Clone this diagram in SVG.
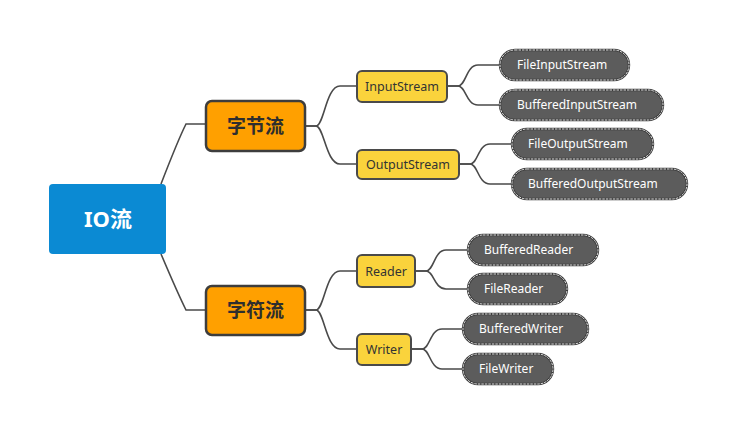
<svg xmlns="http://www.w3.org/2000/svg" width="736" height="435" viewBox="0 0 736 435">
<style>
.conn{fill:none;stroke:#4a4a4a;stroke-width:1.6}
.t{font-family:"Noto Sans","Noto Sans CJK SC",sans-serif}
.main{fill:#0b8ad3}
.l1{fill:#ffa000;stroke:#3d3d3d;stroke-width:2.5}
.l2{fill:#fad33c;stroke:#4a4a4a;stroke-width:2}
.leaf{fill:#5c5c5c;stroke:#3a3a3a;stroke-width:2.4}
.leafo{fill:none;stroke:#f2f2f2;stroke-width:0.9;stroke-dasharray:2.5 1}
.l1t{font-size:19px;font-weight:bold;fill:#2e2e2e}
.l2t{font-size:12.5px;fill:#333}
.lt{font-size:12px;fill:#fff}
</style>
<rect width="736" height="435" fill="#fff"/>
<g id="connectors">
<path class="conn" d="M161,184 Q178,140 186,124 L206,124"/>
<path class="conn" d="M161,254 Q178,294 186,310 L206,310"/>
<path class="conn" d="M305,126 L316,126 C324,126 326,86 340,86 L357,86"/>
<path class="conn" d="M305,126 L316,126 C324,126 326,164 340,164 L357,164"/>
<path class="conn" d="M305,310 L316,310 C324,310 326,271 340,271 L357,271"/>
<path class="conn" d="M305,310 L316,310 C324,310 326,349 340,349 L357,349"/>
<path class="conn" d="M447,86 L458,86 C466,86 466,65 478,65 L500,65"/>
<path class="conn" d="M447,86 L458,86 C466,86 466,105 478,105 L500,105"/>
<path class="conn" d="M459,164 L470,164 C478,164 478,144 490,144 L512,144"/>
<path class="conn" d="M459,164 L470,164 C478,164 478,184 490,184 L512,184"/>
<path class="conn" d="M415,271 L426,271 C434,271 434,250 446,250 L468,250"/>
<path class="conn" d="M415,271 L426,271 C434,271 434,289 446,289 L468,289"/>
<path class="conn" d="M411,349 L422,349 C430,349 430,329 442,329 L463,329"/>
<path class="conn" d="M411,349 L422,349 C430,349 430,369 442,369 L463,369"/>
</g>
<g id="io">
<rect class="main" x="49" y="184" width="117" height="70" rx="4"/>
<text class="t" x="108" y="227" text-anchor="middle" font-size="22" font-weight="bold" fill="#fff">IO流</text>
</g>
<g id="byte">
<rect class="l1" x="206" y="101" width="99" height="50" rx="6"/>
<text class="t l1t" x="255.5" y="133" text-anchor="middle">字节流</text>
</g>
<g id="char">
<rect class="l1" x="206" y="286" width="99" height="49" rx="6"/>
<text class="t l1t" x="255.5" y="317" text-anchor="middle">字符流</text>
</g>
<g id="inputstream">
<rect class="l2" x="357" y="71" width="90" height="31" rx="5"/>
<text class="t l2t" x="402" y="90.5" text-anchor="middle">InputStream</text>
</g>
<g id="outputstream">
<rect class="l2" x="357" y="150" width="102" height="29" rx="5"/>
<text class="t l2t" x="408" y="168.5" text-anchor="middle">OutputStream</text>
</g>
<g id="reader">
<rect class="l2" x="357" y="255" width="58" height="32" rx="5"/>
<text class="t l2t" x="386" y="275.5" text-anchor="middle">Reader</text>
</g>
<g id="writer">
<rect class="l2" x="357" y="334" width="54" height="31" rx="5"/>
<text class="t l2t" x="384" y="353.5" text-anchor="middle">Writer</text>
</g>
<g id="fileinputstream">
<rect class="leaf" x="500" y="50" width="129" height="30" rx="15"/>
<rect class="leafo" x="500" y="50" width="129" height="30" rx="15"/>
<text class="t lt" x="517" y="69">FileInputStream</text>
</g>
<g id="bufferedinputstream">
<rect class="leaf" x="500" y="90" width="163" height="30" rx="15"/>
<rect class="leafo" x="500" y="90" width="163" height="30" rx="15"/>
<text class="t lt" x="517" y="109">BufferedInputStream</text>
</g>
<g id="fileoutputstream">
<rect class="leaf" x="512" y="129" width="141" height="30" rx="15"/>
<rect class="leafo" x="512" y="129" width="141" height="30" rx="15"/>
<text class="t lt" x="528" y="148">FileOutputStream</text>
</g>
<g id="bufferedoutputstream">
<rect class="leaf" x="512" y="169" width="175" height="30" rx="15"/>
<rect class="leafo" x="512" y="169" width="175" height="30" rx="15"/>
<text class="t lt" x="528" y="188">BufferedOutputStream</text>
</g>
<g id="bufferedreader">
<rect class="leaf" x="468" y="235" width="130" height="30" rx="15"/>
<rect class="leafo" x="468" y="235" width="130" height="30" rx="15"/>
<text class="t lt" x="484" y="254">BufferedReader</text>
</g>
<g id="filereader">
<rect class="leaf" x="468" y="274" width="99" height="30" rx="15"/>
<rect class="leafo" x="468" y="274" width="99" height="30" rx="15"/>
<text class="t lt" x="484" y="293">FileReader</text>
</g>
<g id="bufferedwriter">
<rect class="leaf" x="463" y="314" width="125" height="30" rx="15"/>
<rect class="leafo" x="463" y="314" width="125" height="30" rx="15"/>
<text class="t lt" x="479" y="333">BufferedWriter</text>
</g>
<g id="filewriter">
<rect class="leaf" x="463" y="354" width="90" height="30" rx="15"/>
<rect class="leafo" x="463" y="354" width="90" height="30" rx="15"/>
<text class="t lt" x="479" y="373">FileWriter</text>
</g>
</svg>
